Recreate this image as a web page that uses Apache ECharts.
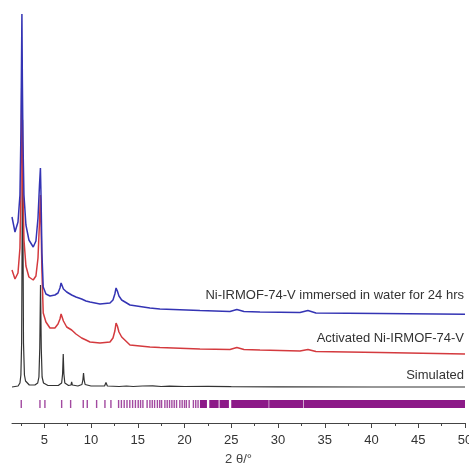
<!DOCTYPE html>
<html><head><meta charset="utf-8">
<script src="https://cdn.jsdelivr.net/npm/echarts@6/dist/echarts.min.js"></script>
<style>html,body{margin:0;padding:0;background:#fff}#c{width:469px;height:467px}</style>
</head><body><div id="c"></div>
<script>
// 2θ tick labels
var tickLabels = [5,10,15,20,25,30,35,40,45,50];
var minorTicks = [2.5,7.5,12.5,17.5,22.5,27.5,32.5,37.5,42.5,47.5];

// Intensities (arbitrary units)
var water24h = [
 [1.55,206],[1.87,191],[2.19,201],[2.40,228],[2.51,293],[2.56,353],[2.61,409],[2.66,343],[2.72,283],[2.83,228],
 [3.04,198],[3.36,183],[3.82,176],[4.11,182],[4.33,205],[4.49,238],[4.59,255],[4.66,225],[4.75,170],[4.89,136],
 [5.18,129],[5.61,127],[6.14,128],[6.47,130],[6.68,135],[6.80,140],[6.86,142],[6.93,138],[7.05,134],[7.40,131],[7.93,128],[8.39,126],
 [9.00,124],[9.46,122],[9.89,121],[10.96,119],[12.03,120],[12.35,123],[12.55,129],[12.68,135],[12.74,136],[12.82,132],[12.99,127],[13.28,123],
 [14.17,118],[16.3,115],[17.37,114],[21.65,112.5],[24.86,111.5],[25.6,113.5],[26.36,111.5],[28.07,111],[32.35,110.5],
 [33.2,112.5],[34.06,110],[40.9,109.5],[50,108.7]
];
var activated = [
 [1.55,153],[1.87,144],[2.19,150],[2.40,175],[2.51,233],[2.56,303],[2.61,358],[2.66,293],[2.72,233],[2.83,183],
 [3.04,157],[3.36,146],[3.82,143],[4.11,147],[4.33,165],[4.49,201],[4.59,228],[4.66,198],[4.75,153],[4.89,110],
 [5.18,101],[5.61,95],[6.14,95],[6.47,99],[6.68,104],[6.80,109],[6.86,110],[6.93,107],[7.05,102],[7.40,96],[7.93,93],[8.39,89],
 [9.00,85],[9.46,83],[9.89,81],[10.96,80],[12.03,81],[12.35,85],[12.55,92],[12.68,100],[12.74,101],[12.82,97],[12.99,91],[13.28,86],
 [14.17,78],[16.3,76],[17.37,75.5],[21.65,74],[24.86,73.5],[25.6,75.5],[26.36,73.5],[28.07,73],[32.35,72],
 [33.2,73.5],[34.06,71.5],[40.9,70.5],[50,69]
];
var simulated = [
 [1.55,36],[2.2,37],[2.4,40],[2.5,48],[2.58,80],[2.64,200],[2.68,303],[2.72,200],[2.78,80],[2.88,48],[3.0,42],[3.4,38],
 [4.0,38],[4.3,40],[4.43,46],[4.52,75],[4.6,138],[4.68,75],[4.77,46],[4.92,40],[5.4,37.5],[6.5,37.5],
 [6.86,40],[6.96,49],[7.03,69],[7.1,49],[7.2,40],[7.6,37.5],[7.86,38],[7.93,41],[8.0,38],[8.6,37],
 [9.03,38.5],[9.13,43],[9.2,50],[9.27,43],[9.37,38.5],[10.0,37],[11.45,37],[11.6,40.5],[11.75,37],
 [13.0,36.5],[13.8,37],[14.5,36.5],[15.5,37],[16.6,37.2],[17.5,36.5],[18.4,36.9],[20.0,36.5],[22.5,36.6],
 [25.0,36.3],[30,36.2],[40,36],[50,36]
];
// Calculated reflection positions (2θ): single lines and dense blocks [from, to]
var reflections = [2.54,4.54,5.07,6.86,7.82,9.17,9.60,10.6,11.49,12.13,
 12.95,13.25,13.55,13.85,14.15,14.45,14.75,15.05,15.3,15.55,
 16.0,16.3,16.55,16.8,17.1,17.35,17.55,17.9,18.15,18.4,18.65,18.9,19.15,
 19.5,19.75,20.0,20.2,20.5,20.95,21.2,21.45];
var reflectionBlocks = [[21.65,22.4],[22.65,23.65],[23.75,24.75],[25.0,29.0],[29.06,32.7],[32.76,50.0]];

var tickData = reflections.map(function(v){return [v,v];}).concat(reflectionBlocks);

var chart = echarts.init(document.getElementById('c'), null, {renderer:'canvas'});
var font = 'Liberation Sans, Arial, Helvetica, sans-serif';
chart.setOption({
  animation:false,
  backgroundColor:'#fff',
  grid:{left:12,right:4,top:10,bottom:44,outerBoundsMode:'none',containLabel:false},
  xAxis:[{
    type:'value', min:1.55, max:50,
    name:'2 θ/°', nameLocation:'middle', nameGap:30,
    nameTextStyle:{fontFamily:font,fontSize:13,color:'#444'},
    axisLine:{show:true,lineStyle:{color:'#444',width:1}},
    axisTick:{show:true,length:5,customValues:tickLabels,lineStyle:{color:'#444'}},
    axisLabel:{show:true,customValues:tickLabels,fontFamily:font,fontSize:13,color:'#333',margin:11,hideOverlap:false},
    splitLine:{show:false}
  },{
    type:'value', min:1.55, max:50, position:'bottom',
    axisLine:{show:false},
    axisTick:{show:true,length:3,customValues:minorTicks,lineStyle:{color:'#444'}},
    axisLabel:{show:false},
    splitLine:{show:false}
  }],
  yAxis:{type:'value',min:0,max:413,show:false},
  series:[
    {type:'line',name:'Simulated',data:simulated,showSymbol:false,lineStyle:{color:'#333',width:1.2},z:2},
    {type:'line',name:'Activated Ni-IRMOF-74-V',data:activated,showSymbol:false,lineStyle:{color:'#d43a3e',width:1.5},z:3},
    {type:'line',name:'Ni-IRMOF-74-V immersed in water for 24 hrs',data:water24h,showSymbol:false,lineStyle:{color:'#3434b4',width:1.5},z:4},
    {type:'custom',name:'reflections',data:tickData,
     renderItem:function(params,api){
       var a = api.coord([api.value(0),23]);
       var b = api.coord([api.value(1),15]);
       var w = Math.max(b[0]-a[0],1.4);
       var single = api.value(0)===api.value(1);
       return {type:'rect',shape:{x:single?a[0]-0.7:a[0],y:a[1],width:w,height:b[1]-a[1]},
         style:{fill:single?'#a24aa0':'#8c1a88'}};
     }}
  ],
  graphic:[
    {type:'text',right:5,top:289,style:{text:'Ni-IRMOF-74-V immersed in water for 24 hrs',font:'13px '+font,fill:'#333'}},
    {type:'text',right:5,top:332,style:{text:'Activated Ni-IRMOF-74-V',font:'13px '+font,fill:'#333'}},
    {type:'text',right:5,top:369,style:{text:'Simulated',font:'13px '+font,fill:'#333'}}
  ]
});
</script></body></html>
